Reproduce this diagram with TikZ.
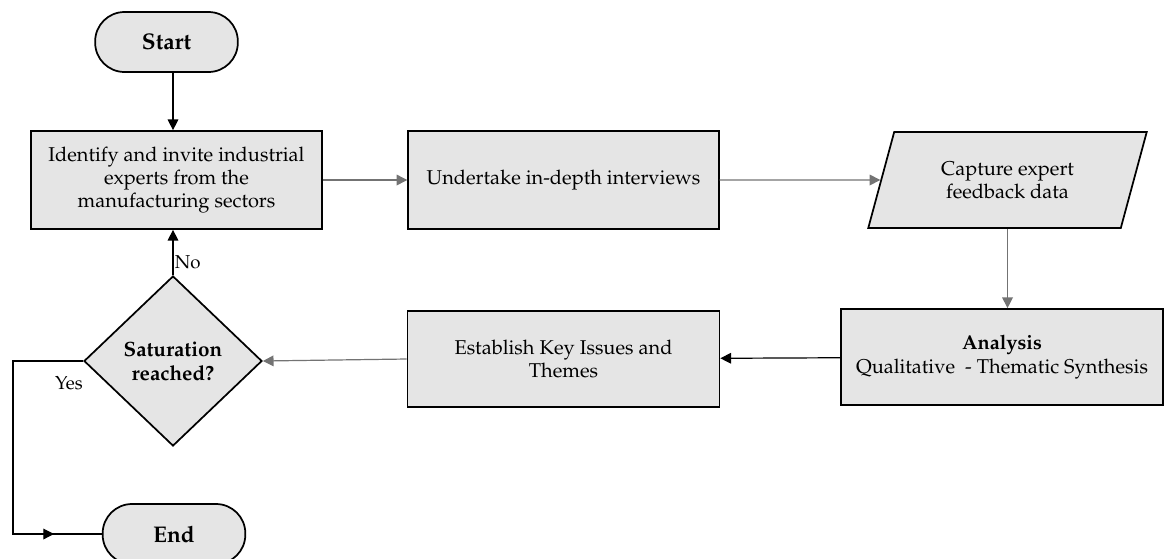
\documentclass[tikz,border=0pt]{standalone}
\usepackage[T1]{fontenc}
\usepackage{mathpazo}
\usetikzlibrary{shapes.geometric,arrows.meta,positioning}
\definecolor{boxgray}{gray}{0.9}
\definecolor{linegray}{gray}{0.45}

\begin{document}
\begin{tikzpicture}[x=0.75pt,y=-0.75pt,
  box/.style={draw,line width=1.3pt,fill=boxgray,align=center,inner sep=0pt,
    font=\fontsize{15}{17.5}\selectfont},
  terminal/.style={box,rounded corners=22pt,minimum width=107pt,minimum height=45pt,
    font=\fontsize{17}{19}\selectfont\bfseries},
  decision/.style={box,diamond,minimum width=133.5pt,minimum height=127.5pt,
    font=\fontsize{15.5}{18}\selectfont\bfseries},
  datain/.style={box,trapezium,trapezium left angle=68,trapezium right angle=112,
    trapezium stretches=true,minimum width=209pt,minimum height=72pt},
  bline/.style={line width=0.9pt,black},
  gline/.style={line width=0.9pt,linegray},
  arr/.style={-{Triangle[length=8pt,width=8pt]}},
  lbl/.style={font=\fontsize{14}{16}\selectfont,inner sep=1pt}]
  \useasboundingbox (0,0) rectangle (1164,558);

  % process nodes
  \node[terminal] (start) at (166.5,42) {Start};
  \node[box,minimum width=218pt,minimum height=73.5pt] (ident) at (176.5,180)
    {Identify and invite industrial\\experts from the\\manufacturing sectors};
  \node[box,minimum width=233pt,minimum height=73pt] (interv) at (563.5,180)
    {Undertake in-depth interviews};
  \node[datain] (capture) at (1007.5,180) {Capture expert\\feedback data};
  \node[box,minimum width=241pt,minimum height=72pt] (analysis) at (1002,357)
    {\textbf{Analysis}\\Qualitative\ \ - Thematic Synthesis};
  \node[box,minimum width=234pt,minimum height=72pt] (establish) at (563.5,359)
    {Establish Key Issues and\\Themes};
  \node[decision] (satur) at (173,361) {Saturation\\reached?};
  \node[terminal] (end) at (174,534) {End};

  % connectors
  \draw[bline,arr] (start.south -| satur.north) -- (satur.north |- ident.north);
  \draw[gline,arr] (ident) -- (interv);
  \draw[gline,arr] (interv) -- (capture);
  \draw[gline,arr] (capture.south) -- (capture.south |- analysis.north);
  \draw[bline,arr] (analysis) -- (establish);
  \draw[gline,arr] (establish.west) -- (satur.east);
  \draw[bline,arr] (satur.north) -- (satur.north |- ident.south)
    node[lbl,pos=0.28,right] {No};

  % yes branch
  \coordinate (yescorner) at (13,534);
  \coordinate (yestip) at (54,534);
  \draw[bline] (satur.west) -| (yescorner) -- (end.west);
  \draw[bline,arr] (yescorner) -- (yestip);
  \node[lbl] (yes) at (69,383) {Yes};
\end{tikzpicture}
\end{document}
